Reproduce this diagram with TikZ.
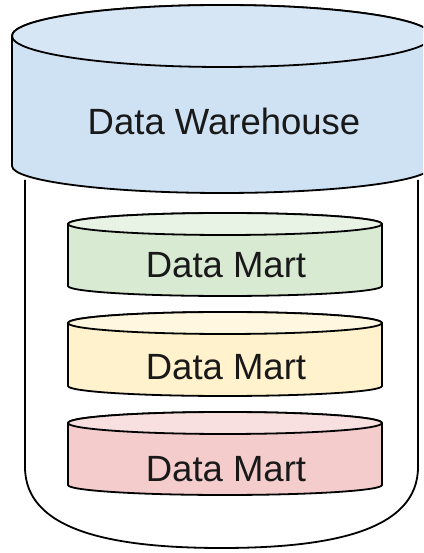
\documentclass[tikz,border=0pt]{standalone}
\usepackage{fontspec}
\setmainfont{Liberation Sans}
\definecolor{dwblue}{HTML}{CFE2F3}
\definecolor{dmgreen}{HTML}{D9EAD3}
\definecolor{dmyellow}{HTML}{FFF2CC}
\definecolor{dmred}{HTML}{F4CCCC}
\begin{document}
\begin{tikzpicture}[x=1pt,y=1pt]
		\tikzstyle{edge}=[draw=black,line width=1.8pt,line join=round]
		\tikzstyle{label}=[anchor=base,inner sep=0pt,text=black!90,font=\fontsize{36.5}{42}\selectfont]
		\fill[white] (0,0) rectangle (423,553);
		\clip (0,0) rectangle (423,553);
		% warehouse body
		\draw[edge,fill=white] (25,373) -- (25,86) .. controls (25,23) and (110,5) .. (221.5,5)
			.. controls (333,5) and (418,23) .. (418,86) -- (418,373);
		% warehouse top
		\draw[edge,fill=dwblue] (12,517) -- (12,387) arc (180:360:210 and 27) -- (432,517) arc (0:180:210 and 31) -- cycle;
		\draw[edge,fill=dwblue!85!white] (222,517) ellipse (210 and 31);
		\node[label] (dw) at (224,418) {Data Warehouse};
		% data marts
		\draw[edge,fill=dmgreen] (68,329) -- (68,267) arc (180:360:157 and 10) -- (382,329) arc (0:180:157 and 11) -- cycle;
		\draw[edge,fill=dmgreen!60!white] (225,329) ellipse (157 and 11);
		\node[label] (dm_1) at (226,275) {Data Mart};
		\draw[edge,fill=dmyellow] (68,230) -- (68,167) arc (180:360:157 and 10) -- (382,230) arc (0:180:157 and 11) -- cycle;
		\draw[edge,fill=dmyellow!60!white] (225,230) ellipse (157 and 11);
		\node[label] (dm_2) at (226,173) {Data Mart};
		\draw[edge,fill=dmred] (68,130) -- (68,68) arc (180:360:157 and 10) -- (382,130) arc (0:180:157 and 11) -- cycle;
		\draw[edge,fill=dmred!60!white] (225,130) ellipse (157 and 11);
		\node[label] (dm_3) at (226,71) {Data Mart};
	\end{tikzpicture}
\end{document}
